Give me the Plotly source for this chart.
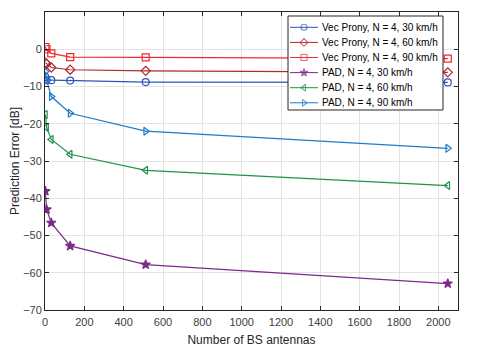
import plotly.graph_objects as go

# number of BS antennas
antennas = [2, 8, 32, 128, 512, 2048]

# prediction error [dB]
vec_30 = [-7.5, -8.3, -8.3, -8.4, -8.8, -8.9]
vec_60 = [-3.6, -3.9, -4.9, -5.5, -5.8, -6.2]
vec_90 = [0.6, 0.0, -1.1, -2.1, -2.2, -2.5]
pad_30 = [-38.1, -43.0, -46.6, -52.8, -57.8, -62.9]
pad_60 = [-17.5, -21.0, -24.2, -28.2, -32.5, -36.6]
pad_90 = [-6.0, -8.2, -12.7, -17.2, -22.0, -26.6]

series = [
    ('Vec Prony, N = 4, 30 km/h', vec_30, '#3055B8', 'circle-open'),
    ('Vec Prony, N = 4, 60 km/h', vec_60, '#B02A30', 'diamond-open'),
    ('Vec Prony, N = 4, 90 km/h', vec_90, '#F2282E', 'square-open'),
    ('PAD, N = 4, 30 km/h', pad_30, '#7B2A8C', 'star'),
    ('PAD, N = 4, 60 km/h', pad_60, '#1C924A', 'triangle-left-open'),
    ('PAD, N = 4, 90 km/h', pad_90, '#1E7BC8', 'triangle-right-open'),
]

fig = go.Figure()
for name, vals, color, symbol in series:
    fig.add_trace(go.Scatter(
        x=antennas, y=vals, name=name, mode='lines+markers', showlegend=False,
        line=dict(color=color, width=1.2),
        marker=dict(symbol=symbol, size=7, color=color,
                    line=dict(color=color, width=1.2))
    ))

# compact MATLAB-style legend box, drawn on an overlay axis measured in pixels
# (plotly's own legend rows are too tall for this layout)
lx0, lx1, ly0, ly1 = 288, 443, 16, 110
row0, row_step = 27.3, 15.1
fig.add_trace(go.Scatter(
    x=[lx0, lx1, lx1, lx0, lx0], y=[ly0, ly0, ly1, ly1, ly0],
    xaxis='x2', yaxis='y2', mode='lines', fill='toself',
    fillcolor='white', line=dict(color='#262626', width=1),
    showlegend=False, hoverinfo='skip'))
for i, (name, vals, color, symbol) in enumerate(series):
    ry = row0 + i * row_step
    fig.add_trace(go.Scatter(
        x=[lx0 + 2, lx0 + 16, lx0 + 30], y=[ry, ry, ry],
        xaxis='x2', yaxis='y2', mode='lines+markers', showlegend=False,
        hoverinfo='skip', line=dict(color=color, width=1),
        marker=dict(symbol=symbol, size=[0, 6, 0], color=color,
                    line=dict(color=color, width=1.1))))
    fig.add_annotation(x=lx0 + 32, y=ry, xref='x2', yref='y2', text=name,
                       showarrow=False, xanchor='left', yanchor='middle',
                       font=dict(size=10, color='#000000'))

axis_style = dict(
    showline=True, linecolor='#262626', linewidth=1, mirror='ticks',
    ticks='inside', ticklen=4, tickcolor='#262626',
    showgrid=True, gridcolor='#E3E3E3', gridwidth=1, zeroline=False,
    automargin=False,
    tickfont=dict(family='Liberation Sans, Arial', size=11, color='#404040'),
)

fig.update_layout(
    width=477, height=341,
    margin=dict(l=37, r=27, t=4, b=39),
    paper_bgcolor='white', plot_bgcolor='white',
    font=dict(family='Liberation Sans, Arial', size=11, color='#262626'),
    xaxis=dict(axis_style, range=[0, 2100], dtick=200, ticklabelstandoff=2,
               title=dict(text='Number of BS antennas', standoff=8,
                          font=dict(size=12, color='#262626'))),
    yaxis=dict(axis_style, range=[-70, 10], dtick=10,
               title=dict(text='Prediction Error [dB]', standoff=5,
                          font=dict(size=12, color='#262626'))),
    xaxis2=dict(overlaying='x', range=[45, 458], visible=False, fixedrange=True),
    yaxis2=dict(overlaying='y', range=[310, 12], visible=False, fixedrange=True),
    showlegend=False,
)

fig.write_html('out.html')
